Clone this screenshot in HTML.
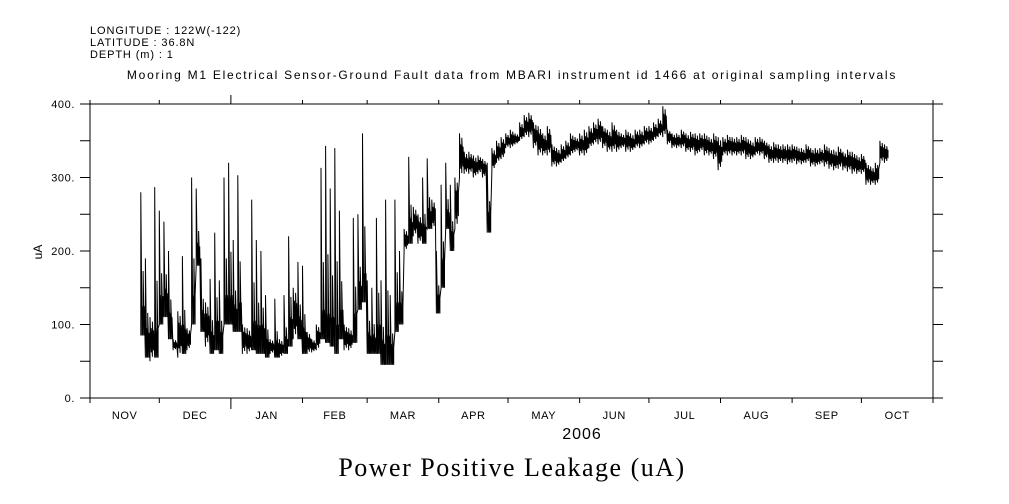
<!DOCTYPE html>
<html><head><meta charset="utf-8"><style>
html,body{margin:0;padding:0;background:#fff;}
svg{display:block;font-family:"Liberation Sans",sans-serif;}
</style></head><body>
<svg id="chart" width="1009" height="504" viewBox="0 0 1009 504">
<g font-size="11" fill="#000" letter-spacing="0.9">
<text x="90" y="34">LONGITUDE : 122W(-122)</text>
<text x="90" y="46">LATITUDE : 36.8N</text>
<text x="90" y="58">DEPTH (m) : 1</text>
<text x="512" y="79" font-size="12" letter-spacing="1.75" text-anchor="middle">Mooring M1 Electrical Sensor-Ground Fault data from MBARI instrument id 1466 at original sampling intervals</text>
</g>
<rect x="90" y="104" width="843" height="294" fill="none" stroke="#000" stroke-width="1"/>
<g id="axes"></g>
<path id="series" fill="none" stroke="#000" stroke-width="1"/>
<text x="42" y="252" font-size="12" text-anchor="middle" transform="rotate(-90 42 252)">uA</text>
<text x="582" y="439" font-size="16" letter-spacing="1" text-anchor="middle">2006</text>
<text x="512" y="476" font-size="26" letter-spacing="1.5" text-anchor="middle" font-family="'Liberation Serif',serif">Power Positive Leakage (uA)</text>
</svg>
<script>
const monthLabels=["NOV","DEC","JAN","FEB","MAR","APR","MAY","JUN","JUL","AUG","SEP","OCT"];
const monthDays=[30,31,31,28,31,30,31,30,31,31,30,31];
const yTicks=[0,100,200,300,400];
const yTickLabels=["0.","100.","200.","300.","400."];
const days=[];for(let d=22;d<=344;d+=2)days.push(d);
const lows=[85,55,50,55,100,110,80,65,55,60,65,100,180,90,70,60,65,60,100,100,90,90,60,60,65,60,60,55,60,55,55,60,70,80,80,60,60,62,65,80,75,70,60,80,65,65,75,120,130,60,60,60,45,45,45,90,100,200,210,220,210,210,230,230,115,150,230,200,230,300,305,305,300,305,300,225,310,320,325,340,340,345,350,355,355,340,330,330,330,315,315,320,325,330,335,330,330,340,345,345,340,335,335,335,340,335,335,340,340,345,345,350,355,355,345,340,340,340,335,335,330,335,330,330,325,310,330,330,330,330,330,325,325,330,330,325,320,320,320,320,318,320,318,318,320,315,315,318,315,312,310,312,310,308,305,305,305,290,290,290,320,320];
const highs=[280,190,110,287,255,240,200,80,118,193,95,300,285,190,130,162,225,160,300,320,215,303,100,95,270,215,200,140,80,135,80,140,220,150,185,180,90,80,100,313,343,285,340,255,100,95,245,250,360,160,150,245,160,270,140,270,200,230,328,260,250,300,326,270,200,290,320,290,300,360,335,335,330,330,325,320,340,350,355,360,365,360,375,385,388,375,370,360,370,345,340,345,350,360,355,360,365,370,375,380,370,365,375,365,360,365,360,365,365,370,370,375,380,397,365,360,360,365,360,362,360,360,360,355,360,355,355,358,355,355,358,355,350,355,355,350,345,348,345,345,345,345,342,340,345,340,340,340,345,340,338,342,335,338,335,330,332,320,315,320,350,345];
const X0=90,X1=933,Y0=398,Y1=104,TOTAL=365;
const xs=d=>X0+d*(X1-X0)/TOTAL;
const ys=v=>Y0-v*(Y0-Y1)/400;
const NS="http://www.w3.org/2000/svg";
const ax=document.getElementById('axes');
function ln(x1,y1,x2,y2,name){const l=document.createElementNS(NS,'line');l.setAttribute('x1',x1);l.setAttribute('y1',y1);l.setAttribute('x2',x2);l.setAttribute('y2',y2);l.setAttribute('stroke','#000');


ax.appendChild(l);}
function tx(x,y,s,anchor,name){const t=document.createElementNS(NS,'text');t.setAttribute('x',x);t.setAttribute('y',y);t.setAttribute('font-size','11');t.setAttribute('letter-spacing','0.6');t.setAttribute('text-anchor',anchor);t.textContent=s;


ax.appendChild(t);}
for(let v=0;v<=400;v+=50){const y=ys(v);ln(80,y,X0,y,'y-tick');ln(X1,y,943,y,'y-tick-right');}
yTicks.forEach((v,i)=>tx(75,ys(v)+4,yTickLabels[i],'end','y-tick-label'));
let acc=0;
for(let i=0;i<=monthDays.length;i++){const x=xs(acc);const jan=(i===2);
ln(x,Y0,x,jan?409:403,'x-tick');ln(x,Y1,x,jan?95:100,'x-tick-top');
if(i<monthDays.length){tx(xs(acc+monthDays[i]/2),419,monthLabels[i],'middle','x-tick-label');acc+=monthDays[i];}}
// rendering of each sample window as a band of strokes
let d='';
const step=(xs(2)-xs(0));
const wideTop=[1,0.3,0.45,0.25], narrowTop=[1,0.75,0.9,0.7], narrowBot=[0,0.2,0.1,0.25];
days.forEach((dy,i)=>{const xb=xs(dy);const lo=lows[i],hi=highs[i],r=hi-lo;const narrow=r<80;
for(let k=0;k<4;k++){const x=(xb+k*step/4).toFixed(1);
const b=narrow?lo+r*narrowBot[k]:lo;
const t=narrow?lo+r*narrowTop[k]:(k===0?hi:(k===2?lo+r*wideTop[k]:lo+Math.min(40,r*wideTop[k])));
d+=((i||k)?'L':'M')+x+' '+ys(b).toFixed(1)+'L'+x+' '+ys(t).toFixed(1);}});
document.getElementById('series').setAttribute('d',d);
</script>
</body></html>
